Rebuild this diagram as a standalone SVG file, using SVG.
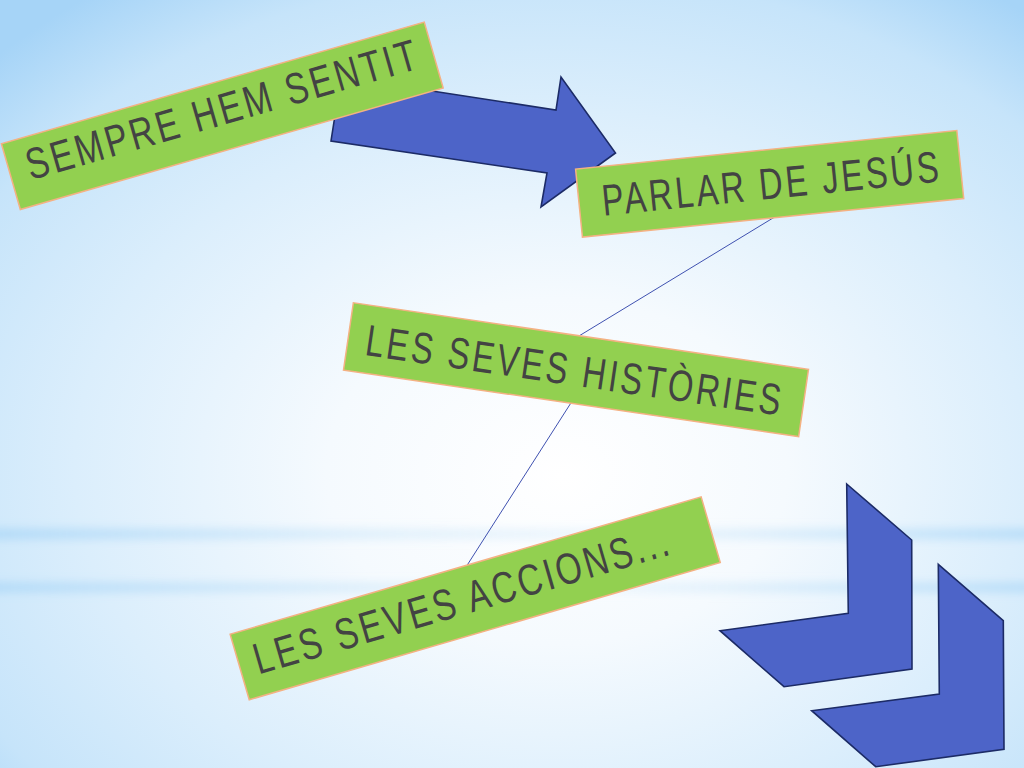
<svg xmlns="http://www.w3.org/2000/svg" width="1024" height="768" viewBox="0 0 1024 768">
  <defs>
    <radialGradient id="bg" cx="0.53" cy="0.6" r="0.75" fx="0.55" fy="0.62">
      <stop offset="0" stop-color="#ffffff"/>
      <stop offset="0.3" stop-color="#f5fafe"/>
      <stop offset="0.62" stop-color="#dbeefc"/>
      <stop offset="0.85" stop-color="#c6e4fa"/>
      <stop offset="1" stop-color="#a6d4f7"/>
    </radialGradient>
    <linearGradient id="streak" x1="0" y1="0" x2="1" y2="0">
      <stop offset="0" stop-color="#a9d6f7" stop-opacity="0.85"/>
      <stop offset="0.4" stop-color="#bfe0f8" stop-opacity="0.4"/>
      <stop offset="0.6" stop-color="#bfe0f8" stop-opacity="0.25"/>
      <stop offset="1" stop-color="#a9d6f7" stop-opacity="0.75"/>
    </linearGradient>
    <filter id="blurY" x="-0.1" y="-2" width="1.2" height="5">
      <feGaussianBlur stdDeviation="2 5"/>
    </filter>
    <style>
      .lbl rect { fill: #92D050; stroke: #F4B183; stroke-width: 1.5; }
      .lbl text { font-family: "Liberation Sans Narrow", "Liberation Sans", "DejaVu Sans Condensed", sans-serif; font-size: 44px; letter-spacing: 4px; fill: #434343; text-anchor: middle; }
      .shape { fill: #4D64C8; stroke: #1C2B66; stroke-width: 1.6; stroke-linejoin: miter; }
      .conn { stroke: #3F51B0; stroke-width: 1; fill: none; }
    </style>
  </defs>

  <!-- background -->
  <rect x="0" y="0" width="1024" height="768" fill="url(#bg)"/>
  <g filter="url(#blurY)">
    <rect x="-20" y="529" width="1064" height="10" fill="url(#streak)"/>
    <rect x="-20" y="583" width="1064" height="9" fill="url(#streak)"/>
  </g>

  <!-- big arrow -->
  <g id="arrow">
    <polygon class="shape" points="341,77 556,110 561,77 615.5,153 541,207 547,173 331,141"/>
  </g>

  <!-- connectors -->
  <g id="connectors">
    <line class="conn" x1="774" y1="217.4" x2="523" y2="370"/>
    <line class="conn" x1="592" y1="370" x2="467" y2="565.4"/>
  </g>

  <!-- labels -->
  <g id="sempre" class="lbl" transform="translate(222.3,115.8) rotate(-16.05)">
    <rect x="-220" y="-34.25" width="440" height="68.5"/>
    <text x="2" y="9" textLength="408" lengthAdjust="spacingAndGlyphs">SEMPRE HEM SENTIT</text>
  </g>
  <g id="parlar" class="lbl" transform="translate(769.65,183.8) rotate(-5.78)">
    <rect x="-191.6" y="-34.15" width="383.2" height="68.3"/>
    <text x="2" y="15" textLength="341" lengthAdjust="spacingAndGlyphs">PARLAR DE JESÚS</text>
  </g>
  <g id="histories" class="lbl" transform="translate(576,369.7) rotate(8.33)">
    <rect x="-230" y="-34" width="460" height="68"/>
    <text x="-1" y="16" textLength="422" lengthAdjust="spacingAndGlyphs">LES SEVES HISTÒRIES</text>
  </g>
  <g id="accions" class="lbl" transform="translate(475.2,598.35) rotate(-16.25)">
    <rect x="-245.3" y="-34.15" width="490.6" height="68.3"/>
    <text x="-12.8" y="12.6" textLength="433" lengthAdjust="spacingAndGlyphs">LES SEVES ACCIONS...</text>
  </g>

  <!-- chevrons -->
  <g id="chevron1">
    <polygon class="shape" points="846.7,484 911.7,540 912,669 784,686.7 720,630.7 848.3,613.3"/>
  </g>
  <g id="chevron2">
    <polygon class="shape" points="938.3,564.3 1003.3,620.7 1004,749.3 875.7,766.7 811.7,710.7 939.3,694"/>
  </g>
</svg>
